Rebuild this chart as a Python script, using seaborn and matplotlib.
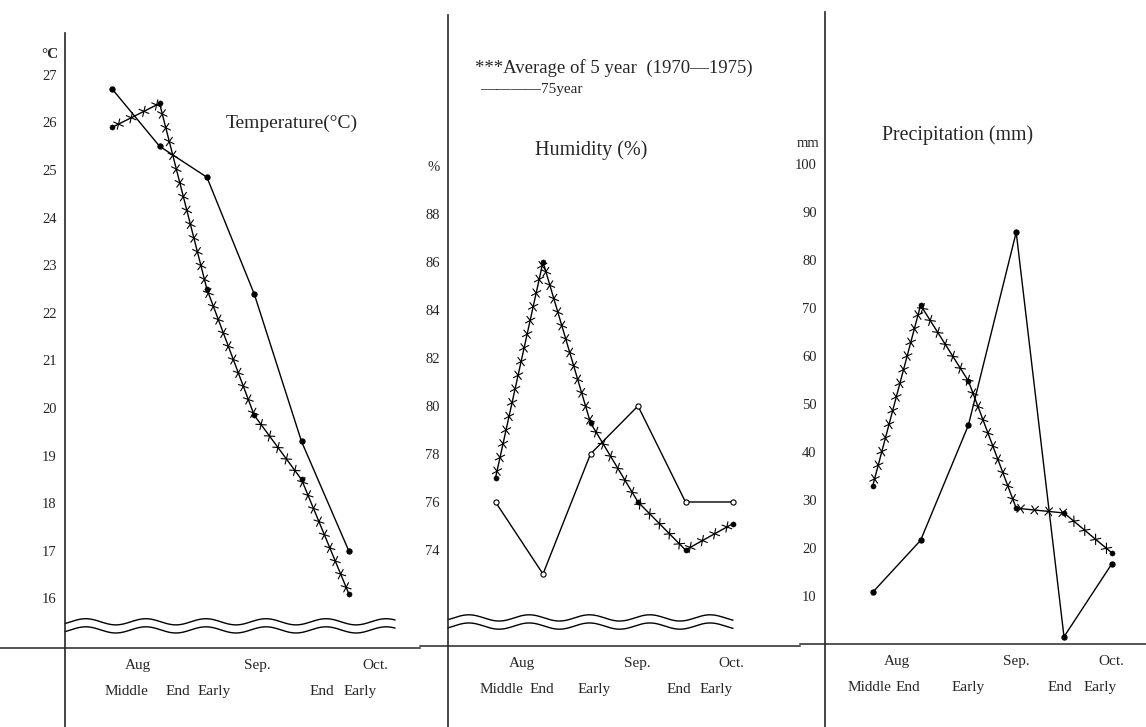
import numpy as np
import pandas as pd
import matplotlib
matplotlib.use("Agg")
import matplotlib.pyplot as plt
import matplotlib.patheffects as pe
import seaborn as sns

# %%
# ten-day periods, mid August to early October
dekads = ["Aug Middle", "Aug End", "Sep Early", "Sep Middle", "Sep End", "Oct Early"]

temp_avg = [25.9, 26.4, 22.5, 19.85, 18.5, 16.1]
temp_75 = [26.7, 25.5, 24.85, 22.4, 19.3, 17.0]

hum_avg = [77.0, 86.0, 79.3, 76.0, 74.0, 75.1]
hum_75 = [76.0, 73.0, 78.0, 80.0, 76.0, 76.0]

prec_avg = [33.0, 70.6, 54.8, 28.3, 27.3, 19.0]
prec_75 = [10.8, 21.6, 45.6, 85.8, 1.5, 16.7]

temp_ticks = list(range(16, 28))
temp_ticklabels = [str(t) for t in temp_ticks]
hum_ticks = list(range(72, 94, 2))
hum_ticklabels = ["", "74", "76", "78", "80", "82", "84", "86", "88", "%", ""]
prec_ticks = list(range(10, 120, 10))
prec_ticklabels = [str(t) for t in prec_ticks[:-1]] + [""]

month_labels = ["Aug", "Sep.", "Oct."]
period_labels = ["Middle", "End", "Early", "End", "Early"]

# %%
sns.set_style("white")
plt.rcParams["font.family"] = ["Liberation Serif", "DejaVu Serif"]

W, H = 1146, 727
fig = plt.figure(figsize=(W / 100, H / 100), dpi=100)

pos = np.arange(1, len(dekads) + 1)

# star-stitched line for the 5 year average
star = [pe.Normal()] + [pe.TickedStroke(angle=a, spacing=10, length=0.38, linewidth=0.8)
                        for a in (50, -130, 130, -50)]


def make_panel(px_left, px_right, px_top, xlim, ylim, base):
    ax = fig.add_axes([px_left / W, 0, (px_right - px_left) / W, (H - px_top) / H])
    ax.set_xlim(*xlim)
    ax.set_ylim(*ylim)
    ax.patch.set_alpha(0)
    for s in ["top", "right"]:
        ax.spines[s].set_visible(False)
    ax.spines["left"].set_position(("data", 0))
    ax.spines["bottom"].set_position(("data", base))
    ax.spines["left"].set_linewidth(1.2)
    ax.spines["bottom"].set_linewidth(1.1)
    ax.tick_params(axis="y", direction="out", length=5, width=1, labelsize=10.5, pad=1)
    ax.tick_params(axis="x", direction="out", length=5, width=1, labelbottom=False)
    return ax


def draw_series(ax, avg, y75, open75=False):
    df = pd.DataFrame({"pos": pos, "avg": avg, "y75": y75})
    sns.lineplot(data=df, x="pos", y="avg", ax=ax, color="k", lw=1.0, path_effects=star)
    sns.lineplot(data=df, x="pos", y="y75", ax=ax, color="k", lw=1.0)
    sns.scatterplot(data=df, x="pos", y="avg", ax=ax, color="k", s=14, edgecolor="k", zorder=5)
    sns.scatterplot(data=df, x="pos", y="y75", ax=ax, color="white" if open75 else "k",
                    s=14, edgecolor="k", linewidth=0.8, zorder=5)
    ax.set_xlabel("")
    ax.set_ylabel("")


def x_labels(ax, base, month_x, period_x):
    for lab, x in zip(month_labels, month_x):
        ax.annotate(lab, xy=(x, base), xytext=(0, -18), textcoords="offset pixels",
                    ha="center", va="center", fontsize=11)
    for lab, x in zip(period_labels, period_x):
        ax.annotate(lab, xy=(x, base), xytext=(0, -44), textcoords="offset pixels",
                    ha="center", va="center", fontsize=11)


def wavy(ax, x1, ys, amp):
    xs = np.linspace(0, x1, 300)
    for y in ys:
        ax.plot(xs, y + amp * np.sin(xs * 2 * np.pi / 1.27 - 0.6), color="k", lw=1.0)


# %% Temperature
ax1 = make_panel(0, 420, 33, (-65 / 47.3, 355 / 47.3), (13.30, 27.88), 14.96)
draw_series(ax1, temp_avg, temp_75)
ax1.set_xticks(np.arange(1, 8))
ax1.set_yticks(temp_ticks)
ax1.set_yticklabels(temp_ticklabels)
ax1.text(-0.32, 27.42, "°C", ha="center", va="center", fontsize=11, fontweight="bold")
ax1.text(3.40, 25.99, "Temperature(°C)", ha="left", va="center", fontsize=14)
wavy(ax1, 6.98, [15.51, 15.34], 0.065)
x_labels(ax1, 14.96, [1.54, 4.06, 6.57], [1.31, 2.38, 3.16, 5.43, 6.24])

# %% Humidity
ax2 = make_panel(420, 800, 15, ((420 - 448) / 47.5, (800 - 448) / 47.5), (66.625, 96.29), 70.0)
draw_series(ax2, hum_avg, hum_75, open75=True)
ax2.set_xticks(np.arange(1, 8))
ax2.set_yticks(hum_ticks)
ax2.set_yticklabels(hum_ticklabels)
ax2.text(0.57, 94.08, "***Average of 5 year  (1970\u20141975)", ha="left", va="center", fontsize=13.5)
ax2.text(0.67, 93.17, "\u2014\u2014\u2014\u201475year", ha="left", va="center", fontsize=11)
ax2.text(1.83, 90.67, "Humidity (%)", ha="left", va="center", fontsize=14.5)
wavy(ax2, 6.0, [71.17, 70.83], 0.13)
x_labels(ax2, 70.0, [1.56, 3.98, 5.96], [1.12, 1.98, 3.07, 4.85, 5.64])

# %% Precipitation
ax3 = make_panel(800, 1146, 12, (-25 / 47.8, 321 / 47.8), (-17.3, 131.7), 0.0)
draw_series(ax3, prec_avg, prec_75)
ax3.set_xticks(np.arange(1, 7))
ax3.set_yticks(prec_ticks)
ax3.set_yticklabels(prec_ticklabels)
ax3.text(-0.36, 104.4, "mm", ha="center", va="center", fontsize=10.5)
ax3.text(1.19, 106.0, "Precipitation (mm)", ha="left", va="center", fontsize=14.3)
x_labels(ax3, 0.0, [1.51, 4.0, 6.0], [0.92, 1.74, 2.99, 4.92, 5.75])

fig.savefig("out.png", dpi=100)
